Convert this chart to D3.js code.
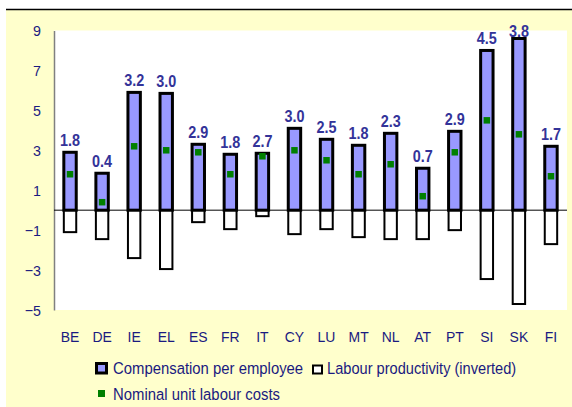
<!DOCTYPE html>
<html><head><meta charset="utf-8">
<script src="https://cdn.jsdelivr.net/npm/d3@7"></script>
<style>body{margin:0;background:#fff}svg{display:block}</style>
</head><body><svg id="c" width="572" height="407"></svg>
<script>
const categories = ["BE","DE","IE","EL","ES","FR","IT","CY","LU","MT","NL","AT","PT","SI","SK","FI"];
const compensation = [2.9,1.85,5.9,5.85,3.3,2.8,2.85,4.1,3.55,3.25,3.85,2.1,3.95,8.0,8.6,3.2];
const productivityInverted = [-1.1,-1.45,-2.4,-2.95,-0.6,-0.95,-0.3,-1.2,-0.95,-1.35,-1.45,-1.45,-1.0,-3.45,-4.7,-1.7];
const ulc = [1.8,0.4,3.2,3.0,2.9,1.8,2.7,3.0,2.5,1.8,2.3,0.7,2.9,4.5,3.8,1.7];
const yTicks = [9,7,5,3,1,-1,-3,-5];
const seriesNames = ["Compensation per employee","Labour productivity (inverted)","Nominal unit labour costs"];

const svg = d3.select("#c");
const navy = "#1a1a80";
const font = "'Liberation Sans', Arial, sans-serif";

svg.append("rect").attr("x",6).attr("y",10).attr("width",566).attr("height",397).attr("fill","#ffffcc");
svg.append("line").attr("x1",6).attr("x2",572).attr("y1",9.5).attr("y2",9.5).attr("stroke","#000").attr("stroke-width",1.5);

const L=54, R=567, T=30.5, B=310;
svg.append("rect").attr("x",L).attr("y",T).attr("width",R-L).attr("height",B-T).attr("fill","#fff");

const x = d3.scaleBand().domain(categories).range([L,R]).paddingInner(0.613).paddingOuter(0.3065);
const y = d3.scaleLinear().domain([-5,9]).range([B,T]);

// narrow-text helper: horizontal squeeze
function label(g, tx, ty, txt, opts){
  const t = g.append("g").attr("transform",`translate(${tx},${ty}) scale(${opts.sx},1)`)
    .append("text").attr("x",0).attr("y",0)
    .attr("text-anchor",opts.anchor||"start").attr("fill",opts.fill||navy)
    .style("font-family",font).style("font-size",opts.size+"px")
    .style("font-weight",opts.weight||"normal").text(txt);
  return t;
}

// y axis
const yAxis = d3.axisLeft(y).tickValues(yTicks).tickSize(0).tickFormat("");
const ga = svg.append("g").attr("transform",`translate(${L},0)`).call(yAxis);
ga.select(".domain").attr("stroke","#808080").attr("stroke-width",1.5);
const gyl = svg.append("g");
yTicks.forEach(v=>label(gyl, 41, y(v)+5.5, d3.format("d")(v), {sx:0.92,size:15.5,anchor:"end"}));

// productivity bars
svg.append("g").selectAll("rect").data(categories).join("rect")
  .attr("x",d=>x(d)).attr("width",x.bandwidth())
  .attr("y",y(0)).attr("height",(d,i)=>y(productivityInverted[i])-y(0))
  .attr("fill","#fff").attr("stroke","#000").attr("stroke-width",2);

// compensation bars
svg.append("g").selectAll("rect").data(categories).join("rect")
  .attr("x",d=>x(d)).attr("width",x.bandwidth())
  .attr("y",(d,i)=>y(compensation[i])).attr("height",(d,i)=>y(0)-y(compensation[i]))
  .attr("fill","#9999ff").attr("stroke","#000").attr("stroke-width",3);

// zero line
svg.append("line").attr("x1",L).attr("x2",R).attr("y1",y(0)).attr("y2",y(0)).attr("stroke","#000").attr("stroke-width",1);

// ULC markers
svg.append("g").selectAll("rect").data(categories).join("rect")
  .attr("x",d=>x(d)+x.bandwidth()/2-3.25).attr("width",6.5)
  .attr("y",(d,i)=>y(ulc[i])-3.25).attr("height",6.5)
  .attr("fill","#008000");

// value labels
const gv = svg.append("g");
categories.forEach((c,i)=>label(gv, x(c)+x.bandwidth()/2, Math.max(y(compensation[i])-6,37),
  d3.format(".1f")(ulc[i]), {sx:0.9,size:16,anchor:"middle",weight:"bold",fill:"#333399"}));

// x labels
const gx = svg.append("g");
categories.forEach(c=>label(gx, x(c)+x.bandwidth()/2, 342, c, {sx:0.9,size:15.5,anchor:"middle"}));

// legend
const lg = svg.append("g");
lg.append("rect").attr("x",96.5).attr("y",363.5).attr("width",10).attr("height",9.5).attr("fill","#9999ff").attr("stroke","#000").attr("stroke-width",3);
label(lg, 113, 374, seriesNames[0], {sx:0.875,size:17});
lg.append("rect").attr("x",313).attr("y",365.5).attr("width",9).attr("height",8).attr("fill","#fff").attr("stroke","#000").attr("stroke-width",2);
label(lg, 327, 374, seriesNames[1], {sx:0.86,size:17});
lg.append("rect").attr("x",98).attr("y",390).attr("width",7).attr("height",7).attr("fill","#008000");
label(lg, 113, 400, seriesNames[2], {sx:0.875,size:17});
</script></body></html>
